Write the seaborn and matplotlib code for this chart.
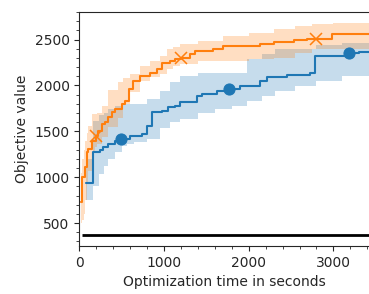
import matplotlib
matplotlib.use("Agg")
import matplotlib.pyplot as plt
from matplotlib.ticker import MultipleLocator
import seaborn as sns
import pandas as pd

# median curve of each optimizer (time in s, objective value)
blue_t = [79, 167, 245, 284, 340, 420, 489, 600, 737, 797, 856, 974, 1049, 1131, 1190,
          1387, 1447, 1624, 1769, 1900, 2136, 2215, 2451, 2727, 2786, 3188, 3235, 3300, 3420]
blue_v = [940, 1272, 1298, 1326, 1363, 1400, 1417, 1453, 1472, 1562, 1707, 1725, 1761, 1780, 1815,
          1888, 1906, 1935, 1957, 1997, 2051, 2095, 2116, 2141, 2323, 2352, 2359, 2366, 2366]
blue_marks = [6, 18, 25]

orange_t = [20, 35, 67, 87, 106, 146, 194, 225, 265, 304, 343, 383, 422, 501, 540, 583, 638,
            717, 836, 915, 974, 1072, 1131, 1199, 1309, 1368, 1584, 1702, 2136, 2293, 2530,
            2688, 2790, 2983, 3420]
orange_v = [728, 1000, 1109, 1272, 1309, 1399, 1453, 1508, 1584, 1598, 1652, 1707, 1743, 1798,
            1833, 1961, 2051, 2105, 2141, 2178, 2250, 2268, 2287, 2304, 2341, 2377, 2396, 2432,
            2456, 2478, 2493, 2504, 2511, 2558, 2558]
orange_marks = [6, 23, 32]

# spread bands (lower / upper quantile)
blue_band_t = [79, 167, 230, 290, 340, 420, 500, 560, 650, 800, 954, 1072, 1190, 1406, 1600,
               1800, 1978, 2156, 2313, 2550, 2800, 3100, 3420]
blue_lo = [750, 900, 1037, 1120, 1200, 1280, 1340, 1360, 1380, 1420, 1540, 1600, 1640, 1700,
           1740, 1780, 1834, 1888, 1943, 1997, 2051, 2105, 2123]
blue_hi = [1200, 1616, 1680, 1700, 1740, 1780, 1800, 1800, 1800, 1852, 1943, 2033, 2105, 2141,
           2141, 2141, 2287, 2341, 2396, 2400, 2440, 2460, 2467]

orange_band_t = [20, 35, 50, 67, 90, 106, 146, 186, 206, 265, 343, 461, 520, 600, 717, 836,
                 954, 1033, 1111, 1190, 1400, 1700, 2000, 2300, 2550, 2750, 3000, 3420]
orange_lo = [500, 530, 600, 747, 950, 1073, 1290, 1326, 1360, 1435, 1543, 1650, 1800, 1925,
             2050, 2090, 2130, 2180, 2214, 2230, 2268, 2268, 2290, 2304, 2350, 2396, 2396, 2396]
orange_hi = [1050, 1200, 1300, 1400, 1480, 1560, 1690, 1690, 1700, 1780, 1950, 2033, 2080, 2130,
             2210, 2270, 2320, 2395, 2420, 2450, 2490, 2540, 2576, 2610, 2649, 2675, 2685, 2685]

baseline = 366

blue = pd.DataFrame({"t": blue_t, "v": blue_v})
orange = pd.DataFrame({"t": orange_t, "v": orange_v})

sns.set_style("ticks")
fig = plt.figure(figsize=(3.69, 2.94), dpi=100)
ax = fig.add_axes([0.215, 0.163, 0.785, 0.796])

ax.fill_between(blue_band_t, blue_lo, blue_hi, step="post", color="C0", alpha=0.25, lw=0)
ax.fill_between(orange_band_t, orange_lo, orange_hi, step="post", color="C1", alpha=0.25, lw=0)
sns.lineplot(data=blue, x="t", y="v", ax=ax, color="C0", drawstyle="steps-post",
             marker="o", markersize=8, markeredgecolor="C0", markevery=blue_marks,
             estimator=None, lw=1.5)
sns.lineplot(data=orange, x="t", y="v", ax=ax, color="C1", drawstyle="steps-post",
             marker="x", markersize=8, markeredgewidth=1.1, markeredgecolor="C1",
             markevery=orange_marks, estimator=None, lw=1.5)
ax.hlines(baseline, 35, 3420, color="black", lw=2)

ax.set_xlim(0, 3420)
ax.set_ylim(250, 2800)
ax.xaxis.set_major_locator(MultipleLocator(1000))
ax.xaxis.set_minor_locator(MultipleLocator(200))
ax.yaxis.set_major_locator(MultipleLocator(500))
ax.yaxis.set_minor_locator(MultipleLocator(100))
ax.spines["right"].set_visible(False)
ax.set_xlabel("Optimization time in seconds")
ax.set_ylabel("Objective value")

fig.savefig("out.png", dpi=100)
